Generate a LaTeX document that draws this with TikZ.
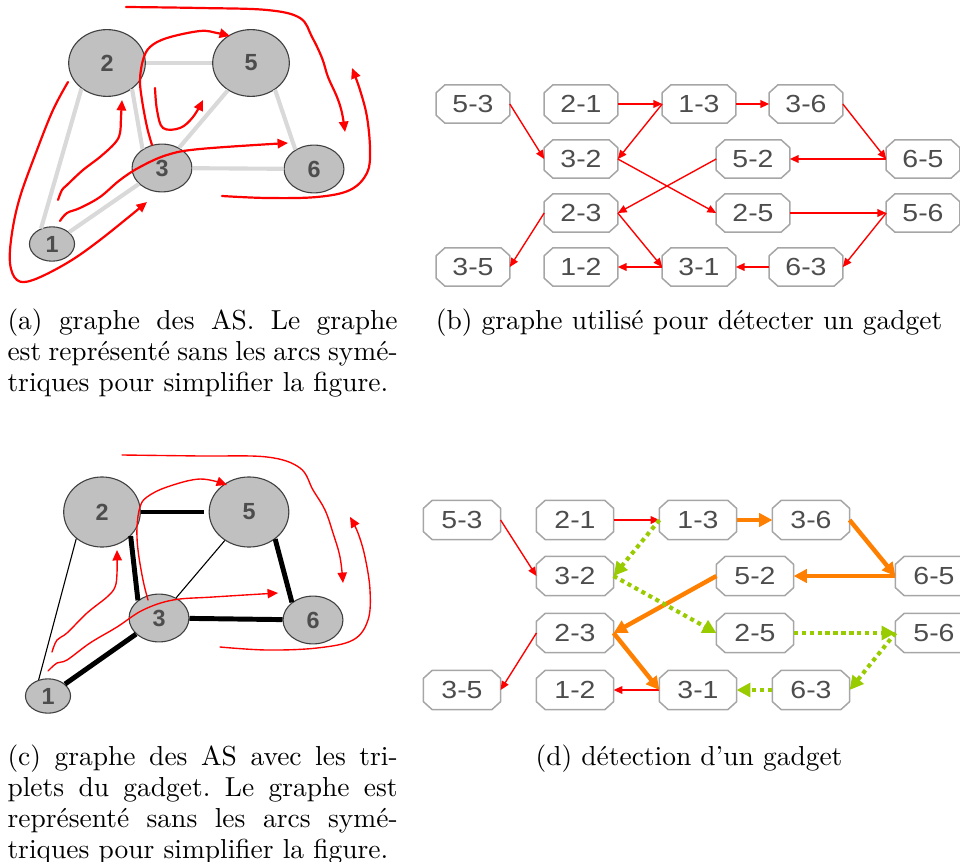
\documentclass[tikz,border=0pt]{standalone}
\usepackage{fontspec}
\newfontfamily\octfont[FakeStretch=1.15]{Liberation Sans}
\newfontfamily\asfont{Liberation Sans}
\usetikzlibrary{shapes.geometric,arrows.meta}
\frenchspacing

\definecolor{edgegray}{RGB}{217,217,217}
\definecolor{asfill}{RGB}{192,192,192}
\definecolor{asdraw}{RGB}{64,64,64}
\definecolor{lbl}{RGB}{77,77,77}
\definecolor{octgray}{RGB}{166,166,166}
\definecolor{gorange}{RGB}{255,128,0}
\definecolor{ggreen}{RGB}{153,204,0}

\begin{document}
\begin{tikzpicture}[x=0.364pt,y=-0.364pt,
  as/.style={ellipse,draw=asdraw,fill=asfill,inner sep=0pt,text=lbl,
    font=\asfont\bfseries\fontsize{8.5}{10}\selectfont},
  asbig/.style={as,minimum width=27.9pt,minimum height=24.3pt},
  asmid/.style={as,minimum width=21.8pt,minimum height=17.4pt},
  aslow/.style={as,minimum width=16.4pt,minimum height=12.5pt},
  octline/.style={draw=octgray,line width=0.55pt,line join=round},
  oct/.style={rectangle,inner sep=0pt,text=lbl,
    font=\octfont\fontsize{9}{10}\selectfont,minimum width=26.4pt,minimum height=13.6pt,
    append after command={\pgfextra{\draw[octline]
      ([xshift=3.2pt]\tikzlastnode.north west) -- ([xshift=-3.2pt]\tikzlastnode.north east)
      -- ([yshift=-2.9pt]\tikzlastnode.north east) -- ([yshift=2.9pt]\tikzlastnode.south east)
      -- ([xshift=-3.2pt]\tikzlastnode.south east) -- ([xshift=3.2pt]\tikzlastnode.south west)
      -- ([yshift=2.9pt]\tikzlastnode.south west) -- ([yshift=-2.9pt]\tikzlastnode.north west)
      -- cycle;}}},
  octd/.style={oct,minimum width=27.7pt,minimum height=13.9pt},
  ge/.style={edgegray,line width=1.5pt},
  be/.style={black,line width=1.8pt},
  te/.style={black,line width=0.4pt},
  hand/.style={red,line width=0.8pt,line cap=round,-{Triangle[length=3.8pt,width=3.4pt]}},
  handc/.style={hand,line width=0.5pt},
  redarr/.style={red,line width=0.5pt,-{Triangle[length=3.2pt,width=2.8pt]}},
  orarr/.style={gorange,line width=1.6pt,-{Triangle[length=4.8pt,width=4.8pt]}},
  grarr/.style={ggreen,line width=1.5pt,dash pattern=on 1.5pt off 1.4pt,
    -{Triangle[length=5pt,width=5pt]}},
  capline/.style={anchor=base west,inner sep=0pt},
  capmid/.style={anchor=base,inner sep=0pt}]
\useasboundingbox (0,0) rectangle (960,861);

% (a) graphe des AS
\node[asbig] (a2) at (107,63)  {2};
\node[asbig] (a5) at (251,63)  {5};
\node[asmid] (a3) at (162,168) {3};
\node[asmid] (a6) at (314,169) {6};
\node[aslow] (a1) at (52,244)  {1};
\draw[ge] (a2) -- (a5);
\draw[ge] (a2.314) -- (a3.136);
\draw[ge] (a2.225) -- (a1.125);
\draw[ge] (a5) -- (a3);
\draw[ge] (a5.312) -- (a6.134);
\draw[ge] (a3) -- (a6);
\draw[ge] (a1) -- (a3);
\draw[hand] plot[smooth,tension=0.6] coordinates {(126,7) (200,8) (267,10) (300,18) (312,37) (322,58) (328,77) (337,97) (342,113) (345,132)};
\draw[hand] plot[smooth,tension=0.6] coordinates {(222,196) (267,198) (317,197) (350,190) (367,173) (370,150) (367,117) (360,90) (352,68)};
\draw[hand] plot[smooth,tension=0.6] coordinates {(152,145) (147,127) (142,100) (140,80) (143,60) (150,47) (167,38) (200,31) (217,33) (230,36)};
\draw[hand] plot[smooth,tension=0.6] coordinates {(155,88) (157,110) (163,128) (180,128) (193,117) (203,100)};
\draw[hand] plot[smooth,tension=0.6] coordinates {(58,200) (62,190) (67,185) (83,170) (100,157) (115,143) (120,133) (121,117) (122,100)};
\draw[hand] plot[smooth,tension=0.6] coordinates {(60,221) (67,213) (80,208) (100,197) (120,180) (140,167) (167,155) (200,149) (288,143)};
\draw[hand] plot[smooth,tension=0.6] coordinates {(68,82) (53,110) (37,150) (20,197) (12,233) (10,263) (17,280) (33,280) (67,263) (100,240) (147,202)};

% (b) graphe utilise pour detecter un gadget
\node[oct] (b53) at (473,104) {5-3};
\node[oct] (b21) at (581,104) {2-1};
\node[oct] (b13) at (699,104) {1-3};
\node[oct] (b36) at (806,104) {3-6};
\node[oct] (b32) at (581,159) {3-2};
\node[oct] (b52) at (753,159) {5-2};
\node[oct] (b65) at (923,159) {6-5};
\node[oct] (b23) at (581,213) {2-3};
\node[oct] (b25) at (753,213) {2-5};
\node[oct] (b56) at (923,213) {5-6};
\node[oct] (b35) at (473,267) {3-5};
\node[oct] (b12) at (581,267) {1-2};
\node[oct] (b31) at (699,267) {3-1};
\node[oct] (b63) at (806,267) {6-3};
\draw[redarr] (b53.east) -- (b32.west);
\draw[redarr] (b21.east) -- (b13.west);
\draw[redarr] (b13.east) -- (b36.west);
\draw[redarr] (b13.west) -- (b32.east);
\draw[redarr] (b36.east) -- (b65.west);
\draw[redarr] (b65.west) -- (b52.east);
\draw[redarr] (b52.west) -- (b23.east);
\draw[redarr] (b32.east) -- (b25.west);
\draw[redarr] (b25.east) -- (b56.west);
\draw[redarr] (b56.west) -- (b63.east);
\draw[redarr] (b63.west) -- (b31.east);
\draw[redarr] (b31.west) -- (b12.east);
\draw[redarr] (b23.east) -- (b31.west);
\draw[redarr] (b23.west) -- (b35.east);

% (c) graphe des AS avec les triplets du gadget
\node[asbig,minimum height=25.5pt] (c2) at (102,512) {2};
\node[asbig,minimum width=29pt,minimum height=25.5pt] (c5) at (249,512) {5};
\node[asmid] (c3) at (159,618) {3};
\node[asmid] (c6) at (313,620) {6};
\node[aslow] (c1) at (48,696)  {1};
\draw[be,shorten >=1.5pt] (c2) -- (c5);
\draw[be] (c2.320) -- (c3.140);
\draw[te] (c2.226) -- (c1.120);
\draw[te] (c5) -- (c3);
\draw[be] (c5.314) -- (c6.140);
\draw[be] (c3) -- (c6);
\draw[be] (c1) -- (c3);
\draw[handc] plot[smooth,tension=0.6] coordinates {(122,455) (200,456) (267,457) (300,468) (313,490) (325,510) (333,533) (340,557) (343,583)};
\draw[handc] plot[smooth,tension=0.6] coordinates {(220,647) (267,650) (317,648) (353,640) (368,620) (370,590) (365,557) (358,533) (350,517)};
\draw[handc] plot[smooth,tension=0.6] coordinates {(148,600) (143,580) (138,550) (137,527) (140,507) (147,497) (167,487) (200,479) (227,485)};
\draw[handc] plot[smooth,tension=0.6] coordinates {(52,652) (57,640) (67,633) (87,613) (107,597) (115,587) (117,573) (117,550)};
\draw[handc] plot[smooth,tension=0.6] coordinates {(48,671) (57,663) (67,660) (90,643) (117,627) (143,610) (173,600) (213,597) (278,593)};

% (d) detection d'un gadget
\node[octd] (d53) at (462,520) {5-3};
\node[octd] (d21) at (575,520) {2-1};
\node[octd] (d13) at (698,520) {1-3};
\node[octd] (d36) at (811,520) {3-6};
\node[octd] (d32) at (575,576) {3-2};
\node[octd] (d52) at (755,576) {5-2};
\node[octd] (d65) at (934,576) {6-5};
\node[octd] (d23) at (575,633) {2-3};
\node[octd] (d25) at (755,633) {2-5};
\node[octd] (d56) at (934,633) {5-6};
\node[octd] (d35) at (462,690) {3-5};
\node[octd] (d12) at (575,690) {1-2};
\node[octd] (d31) at (698,690) {3-1};
\node[octd] (d63) at (811,690) {6-3};
\draw[redarr] (d53.east) -- (d32.west);
\draw[redarr] (d21.east) -- (d13.west);
\draw[redarr] (d31.west) -- (d12.east);
\draw[redarr] (d23.west) -- (d35.east);
\draw[orarr] (d13.east) -- (d36.west);
\draw[orarr] (d36.east) -- (d65.west);
\draw[orarr] (d65.west) -- (d52.east);
\draw[orarr] (d52.west) -- (d23.east);
\draw[orarr] (d23.east) -- (d31.west);
\draw[grarr] (d13.west) -- (d32.east);
\draw[grarr] (d32.east) -- (d25.west);
\draw[grarr] (d25.east) -- (d56.west);
\draw[grarr] (d56.west) -- (d63.east);
\draw[grarr] (d63.west) -- (d31.east);

% legendes
\node[capline] (capa1) at (7,329) {\makebox[142pt][s]{(a) graphe des AS. Le graphe}};
\node[capline] (capa2) at (7,360) {\makebox[142pt][s]{est représenté sans les arcs symé-}};
\node[capline] (capa3) at (7,391) {triques pour simplifier la figure.};
\node[capmid] (capb) at (689,329) {(b) graphe utilisé pour détecter un gadget};
\node[capline] (capc1) at (7,765) {\makebox[142pt][s]{(c) graphe des AS avec les tri-}};
\node[capline] (capc2) at (7,796) {\makebox[142pt][s]{plets du gadget. Le graphe est}};
\node[capline] (capc3) at (7,827) {\makebox[142pt][s]{représenté sans les arcs symé-}};
\node[capline] (capc4) at (7,858) {triques pour simplifier la figure.};
\node[capmid] (capd) at (689,765) {(d) détection d'un gadget};
\end{tikzpicture}
\end{document}
